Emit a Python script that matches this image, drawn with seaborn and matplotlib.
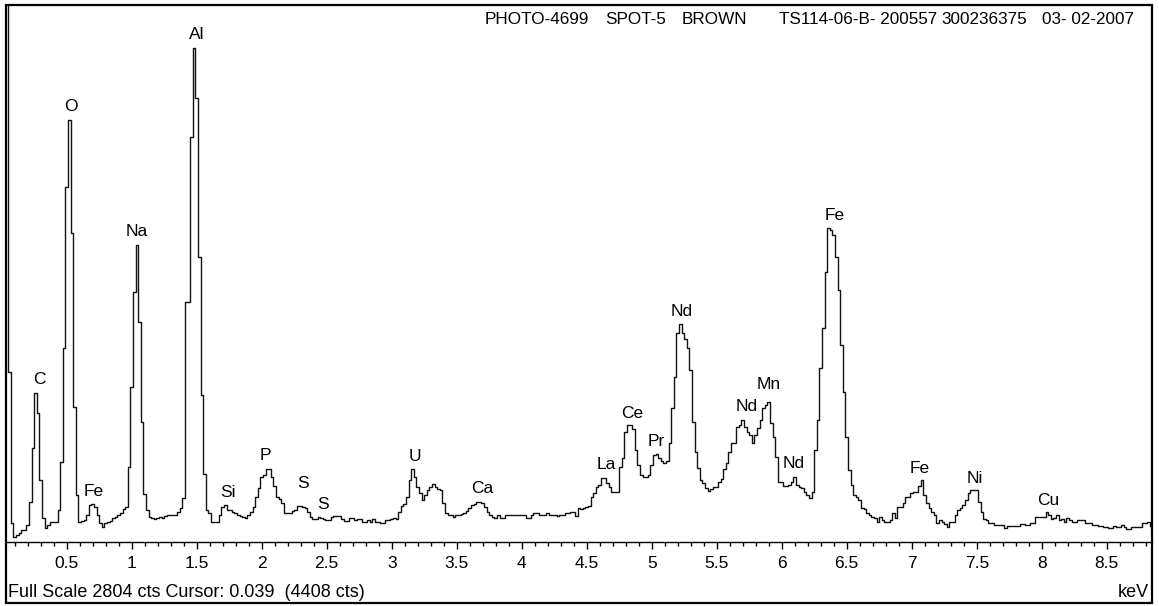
import numpy as np
import pandas as pd
import seaborn as sns
import matplotlib
matplotlib.use("Agg")
import matplotlib.pyplot as plt
from matplotlib.patches import Rectangle
from matplotlib.ticker import MultipleLocator, FuncFormatter

# EDS spectrum, 20 eV channels, first channel starts at 0.03 keV
channel_start = 0.03
channel_width = 0.02
full_scale = 2804
counts = [
    4408,
    889, 99, 28, 35, 45, 63, 63, 89, 210, 489,
    776, 672, 324, 124, 72, 89, 106, 106, 106, 167,
    419, 1011, 1855, 2206, 1611, 706, 245, 106, 112, 115,
    141, 193, 198, 184, 141, 99, 80, 97, 105, 111,
    124, 132, 141, 150, 170, 184, 393, 811, 1307, 1550,
    1150, 628, 253, 167, 132, 125, 118, 125, 128, 125,
    135, 141, 141, 141, 141, 158, 176, 228, 1254, 1254,
    2116, 2582, 2319, 1489, 767, 357, 167, 150, 106, 106,
    106, 141, 184, 193, 167, 167, 158, 150, 141, 136,
    130, 125, 141, 158, 185, 235, 282, 340, 350, 380,
    380, 339, 292, 236, 225, 204, 153, 153, 153, 160,
    167, 190, 190, 185, 177, 158, 132, 118, 118, 132,
    125, 122, 115, 115, 130, 136, 136, 136, 122, 111,
    111, 125, 125, 115, 122, 122, 106, 106, 115, 106,
    120, 106, 106, 101, 101, 115, 115, 120, 124, 120,
    158, 188, 200, 236, 324, 380, 340, 289, 255, 219,
    245, 270, 289, 303, 285, 275, 271, 202, 153, 141,
    141, 132, 141, 141, 145, 150, 160, 176, 193, 200,
    210, 210, 202, 184, 158, 141, 132, 124, 141, 124,
    124, 141, 141, 141, 141, 141, 141, 141, 141, 124,
    124, 141, 150, 150, 141, 141, 141, 150, 141, 141,
    141, 136, 141, 141, 150, 150, 158, 158, 136, 176,
    170, 176, 184, 190, 236, 254, 289, 300, 336, 336,
    306, 285, 263, 263, 263, 393, 437, 576, 611, 611,
    590, 480, 400, 350, 341, 341, 350, 400, 455, 460,
    437, 423, 411, 425, 515, 698, 863, 1090, 1138, 1090,
    1058, 1011, 898, 628, 471, 385, 324, 306, 280, 268,
    275, 289, 289, 315, 327, 380, 411, 471, 518, 515,
    602, 610, 637, 600, 576, 560, 515, 560, 593, 637,
    700, 715, 733, 620, 550, 445, 315, 315, 290, 292,
    300, 315, 338, 300, 289, 280, 263, 245, 228, 263,
    480, 637, 907, 1115, 1411, 1638, 1630, 1603, 1489, 1315,
    1028, 785, 550, 376, 298, 245, 233, 219, 176, 170,
    150, 141, 130, 124, 106, 132, 115, 106, 106, 115,
    150, 124, 184, 184, 202, 236, 236, 254, 263, 263,
    292, 324, 245, 202, 180, 158, 141, 101, 115, 106,
    94, 80, 106, 106, 141, 167, 180, 193, 219, 254,
    271, 271, 271, 210, 158, 120, 115, 101, 101, 89,
    89, 89, 89, 72, 85, 85, 85, 85, 85, 94,
    94, 89, 89, 97, 97, 129, 129, 132, 132, 158,
    141, 118, 124, 141, 115, 118, 106, 124, 115, 106,
    106, 115, 115, 115, 101, 101, 97, 89, 89, 85,
    85, 80, 80, 72, 72, 85, 80, 80, 89, 80,
    66, 66, 80, 80, 80, 80, 97, 97, 106, 85,
]

# peak labels: element, energy (keV), label height (cts)
peak_names = ["C", "O", "Fe", "Na", "Al", "Si", "P", "S", "S", "U", "Ca",
              "La", "Ce", "Pr", "Nd", "Nd", "Mn", "Nd", "Fe", "Fe", "Ni", "Cu"]
peak_kev = [0.287, 0.531, 0.705, 1.038, 1.500, 1.738, 2.025, 2.315, 2.469,
            3.179, 3.700, 4.648, 4.846, 5.033, 5.231, 5.731, 5.897, 6.089,
            6.410, 7.064, 7.487, 8.051]
peak_label_cts = [846, 2272, 266, 1620, 2649, 257, 454, 308, 198, 447, 280,
                  407, 673, 527, 1206, 706, 820, 410, 1707, 385, 333, 215]

header_parts = ["PHOTO-4699", "SPOT-5", "BROWN", "TS114-06-B- 200557",
                "300236375", "03- 02-2007"]
header_cx = [537, 636, 714, 858, 984, 1088]
footer = "Full Scale 2804 cts Cursor: 0.039  (4408 cts)"

W, H = 1159, 606


def fx(x):
    return x / W


def fy(y):
    return 1 - y / H


sns.set_theme(style="white")
plt.rcParams['font.family'] = ['Liberation Sans', 'DejaVu Sans']

fig = plt.figure(figsize=(W / 100, H / 100), dpi=100)
ax = fig.add_axes([fx(6), fy(542), (1152 - 6) / W, (542 - 5) / H])

energy = channel_start + channel_width * np.arange(len(counts) + 1)
df = pd.DataFrame({"keV": energy, "cts": counts + [counts[-1]]})
sns.lineplot(data=df, x="keV", y="cts", drawstyle="steps-post",
             color="#111111", linewidth=1.0, estimator=None, ax=ax)

ax.set_xlim(0.033, 8.848)
ax.set_ylim(0, full_scale)
ax.set_xlabel("")
ax.set_ylabel("")
ax.set_yticks([])
for s in ["top", "left", "right"]:
    ax.spines[s].set_visible(False)
ax.spines["bottom"].set_color("black")
ax.spines["bottom"].set_linewidth(1.0)

ax.xaxis.set_major_locator(MultipleLocator(0.5))
ax.xaxis.set_minor_locator(MultipleLocator(0.1))
ax.xaxis.set_major_formatter(FuncFormatter(lambda v, p: f"{v:g}"))
ax.tick_params(axis="x", which="both", bottom=True, direction="out",
               color="black", width=1.0, labelcolor="black")
ax.tick_params(axis="x", which="major", length=4.8, labelsize=12.5, pad=5.5)
ax.tick_params(axis="x", which="minor", length=3.0)

for name, e, c in zip(peak_names, peak_kev, peak_label_cts):
    ax.text(e, c, name, ha="center", va="center", fontsize=12.5, color="black")

for part, x in zip(header_parts, header_cx):
    fig.text(fx(x), fy(23.5), part, ha="center", va="baseline",
             fontsize=12.3, color="black")

fig.text(fx(8), fy(597), footer, ha="left", va="baseline",
         fontsize=13, color="black")
fig.text(fx(1149), fy(597), "keV", ha="right", va="baseline",
         fontsize=13, color="black")

frame = Rectangle((fx(6), fy(603)), (1152 - 6) / W, (603 - 5) / H,
                  transform=fig.transFigure, fill=False,
                  edgecolor="black", linewidth=1.6)
fig.add_artist(frame)

fig.savefig("out.png", dpi=100)
